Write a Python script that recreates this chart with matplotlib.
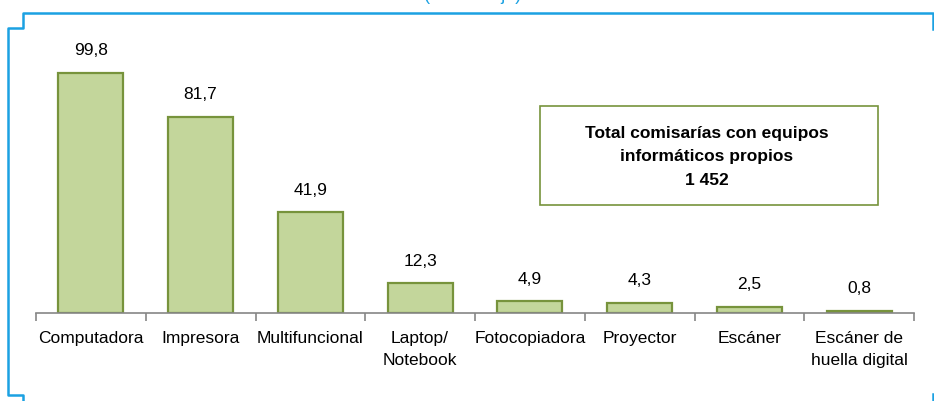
import matplotlib
matplotlib.use("Agg")
import matplotlib.pyplot as plt
import numpy as np
from matplotlib.lines import Line2D
from matplotlib.patches import Rectangle

plt.rcParams["font.family"] = ["Liberation Sans", "DejaVu Sans"]

# Data
categories = ["Computadora", "Impresora", "Multifuncional", "Laptop/\nNotebook",
              "Fotocopiadora", "Proyector", "Escáner", "Escáner de\nhuella digital"]
values = [99.8, 81.7, 41.9, 12.3, 4.9, 4.3, 2.5, 0.8]
box_text = "Total comisarías con equipos\ninformáticos propios\n1 452"

W, H = 934, 401
fig = plt.figure(figsize=(W / 100, H / 100), dpi=100)

def fx(px):
    return px / W

def fy(py):
    return 1 - py / H

# axes: x 36..914 px, baseline at y=313 px
ax = fig.add_axes([fx(36), fy(313), (914 - 36) / W, (313 - 48.5) / H])
x = np.arange(len(categories))
ax.bar(x, values, 0.59, color="#C3D69B", edgecolor="#77933C", lw=1.6)

for xi, v in zip(x, values):
    ax.annotate(f"{v:.1f}".replace(".", ","), (xi, v), xytext=(0, 10.5),
                textcoords="offset points", ha="center", va="bottom", fontsize=12.5)

ax.set_xlim(-0.5, len(categories) - 0.5)
ax.set_ylim(0, 110)
ax.set_xticks(x)
ax.set_xticklabels(categories, fontsize=12.5, linespacing=1.6)
ax.tick_params(axis="x", which="major", length=0, pad=13)
ax.set_xticks(np.arange(len(categories) + 1) - 0.5, minor=True)
ax.tick_params(axis="x", which="minor", length=6, color="#868686", width=1.2)
ax.set_yticks([])
for s in ["top", "right", "left"]:
    ax.spines[s].set_visible(False)
ax.spines["bottom"].set_color("#868686")
ax.spines["bottom"].set_linewidth(1.2)

# total box
fig.add_artist(Rectangle((fx(540), fy(205)), (878 - 540) / W, (205 - 106) / H,
                         transform=fig.transFigure, fill=False,
                         edgecolor="#77933C", lw=1.2))
fig.text(fx(707), fy(157), box_text, ha="center", va="center", fontsize=12.5,
         fontweight="bold", linespacing=1.7)

# blue frame lines
blue = "#1BA1E2"
fig.add_artist(Line2D([fx(933), fx(933), fx(23), fx(23), fx(8), fx(8), fx(23), fx(23)],
                      [fy(29), fy(13), fy(13), fy(28), fy(28), fy(395), fy(395), fy(402)],
                      transform=fig.transFigure, color=blue, lw=1.8))
fig.add_artist(Line2D([fx(933), fx(933)], [fy(394), fy(402)],
                      transform=fig.transFigure, color=blue, lw=1.8))

# subtitle clipped at the very top, as in the reference
fig.text(fx(473), 1.0, "(Porcentaje)", ha="center", va="baseline",
         fontsize=13, color=blue)

fig.savefig("out.png", dpi=100)
